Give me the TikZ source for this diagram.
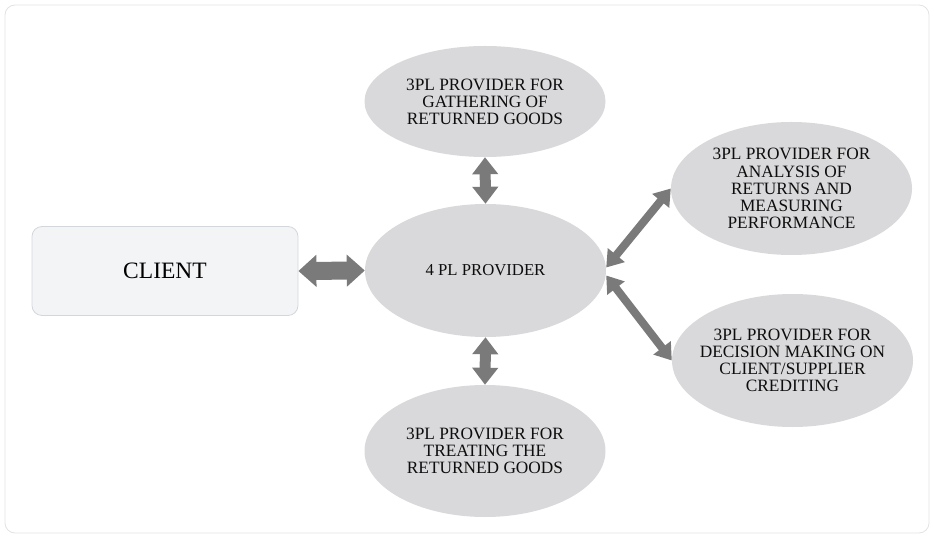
\documentclass[tikz,border=0pt]{standalone}
\usepackage{fontspec}
\setmainfont{Liberation Serif}
\usepackage{tikz}
\usetikzlibrary{arrows.meta, shapes.geometric}
\definecolor{ellgray}{HTML}{D9D9DB}
\definecolor{boxfill}{HTML}{F3F4F6}
\definecolor{boxline}{HTML}{D3D7DC}
\definecolor{arrgray}{HTML}{7A7A7A}
\definecolor{framegray}{HTML}{E2E2E2}
\tikzset{
  frame/.style   ={draw=framegray, line width=0.8pt, rounded corners=10pt},
  clientbox/.style={draw=boxline, fill=boxfill, rounded corners=10pt,
                  minimum width=266pt, minimum height=89pt, inner sep=0pt,
                  line width=0.8pt, text=black,
                  font=\fontsize{23.5}{25}\selectfont},
  prov/.style    ={ellipse, fill=ellgray, inner sep=0pt, align=center,
                  minimum width=241pt, minimum height=133pt, text=black!95,
                  font=\fontsize{17.3}{17.1}\selectfont},
  link/.style    ={draw=arrgray, line width=11pt,
                  {Triangle[width=25pt, length=17pt]}-{Triangle[width=25pt, length=17pt]}},
  widelink/.style={draw=arrgray, line width=18pt,
                  {Triangle[width=31pt, length=18pt]}-{Triangle[width=31pt, length=18pt]}},
  slantlink/.style={draw=arrgray, line width=8pt,
                  {Triangle[width=21pt, length=16pt]}-{Triangle[width=21pt, length=16pt]}},
}
\begin{document}
\begin{tikzpicture}[x=1pt, y=-1pt]
  \useasboundingbox (0,0) rectangle (934,537);
  \draw[frame] (5,5) rectangle (929,533);
  \node[clientbox] (client) at (165,271) {CLIENT};
  \node[prov, font=\fontsize{16.7}{17}\selectfont] (core) at (485.5,270.5) {4 PL PROVIDER};
  \node[prov, minimum height=111pt] (gather) at (485,101.5)
    {3PL PROVIDER FOR\\ GATHERING OF\\ RETURNED GOODS};
  \node[prov, minimum height=132pt] (treat) at (485,451)
    {3PL PROVIDER FOR\\ TREATING THE\\ RETURNED GOODS};
  \node[prov] (analysis) at (791.5,188.5)
    {3PL PROVIDER FOR\\ ANALYSIS OF\\ RETURNS AND\\ MEASURING\\ PERFORMANCE};
  \node[prov, inner xsep=-9pt] (decision) at (792.5,360.5)
    {3PL PROVIDER FOR\\ DECISION MAKING ON\\ CLIENT/SUPPLIER\\ CREDITING};
  \draw[widelink] (client.east) -- (core.west);
  \draw[link] (gather.south) -- (core.north);
  \draw[link] (core.south) -- (treat.north);
  \draw[slantlink] ([yshift=3pt]core.east) -- (analysis.west);
  \draw[slantlink] ([yshift=-5pt]core.east) -- (decision.west);
\end{tikzpicture}
\end{document}
